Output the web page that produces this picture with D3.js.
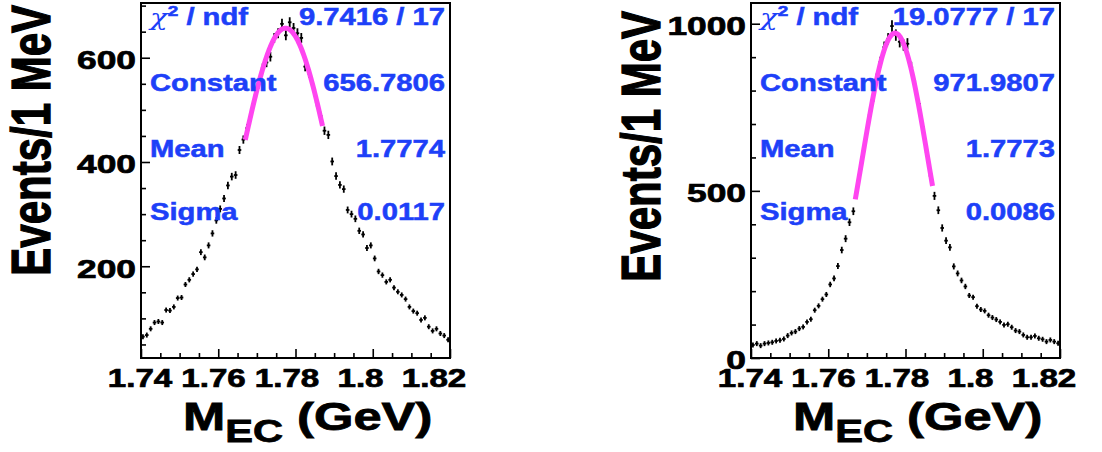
<!DOCTYPE html>
<html>
<head>
<meta charset="utf-8">
<script src="https://cdn.jsdelivr.net/npm/d3@7"></script>
<style>
  body { margin: 0; background: #fff; }
  text { font-family: "Liberation Sans", Arial, Helvetica, sans-serif; font-weight: bold; }
</style>
</head>
<body>
<svg id="chart" width="1102" height="452"></svg>
<script>
// Histogram binning: 80 bins of 1 MeV from 1.74 GeV
const binLow = 1.74;
const binWidth = 0.001;

// Events per bin, first sample
const countsA = [
  65, 68, 80, 92, 94, 92, 116, 115, 122, 139,
  140, 165, 174, 185, 194, 227, 217, 240, 263, 288,
  310, 330, 355, 372, 375, 423, 443, 465, 488, 527,
  550, 580, 591, 602, 638, 647, 665, 643, 668, 657,
  647, 638, 583, 570, 548, 515, 488, 460, 452, 401,
  373, 356, 348, 308, 300, 291, 268, 261, 235, 240,
  215, 190, 183, 170, 174, 159, 151, 145, 137, 122,
  114, 110, 97, 101, 84, 76, 80, 71, 67, 59
];

// Events per bin, second sample
const countsB = [
  39, 43, 37, 43, 45, 47, 51, 53, 57, 67,
  75, 79, 88, 93, 108, 116, 143, 156, 176, 190,
  220, 238, 275, 323, 357, 406, 439, 505, 570, 640,
  715, 770, 835, 885, 930, 955, 993, 966, 946, 936,
  940, 870, 815, 760, 690, 615, 545, 485, 442, 389,
  351, 331, 274, 253, 232, 214, 187, 182, 155, 145,
  141, 128, 121, 115, 108, 99, 101, 92, 82, 79,
  69, 62, 62, 66, 59, 56, 49, 54, 49, 44
];

// Gaussian fit results: constant, mean, sigma
const fitParamsA = [656.7806, 1.7774, 0.0117];
const fitParamsB = [971.9807, 1.7773, 0.0086];
const fitRange = [1.767, 1.787];

// Fit statistics box
const statLabels = ["Constant", "Mean", "Sigma"];
const chi2TextA = "9.7416 / 17";
const chi2TextB = "19.0777 / 17";
const statValuesA = ["656.7806", "1.7774", "0.0117"];
const statValuesB = ["971.9807", "1.7773", "0.0086"];

// Axis ticks and titles
const xTicks = [1.74, 1.76, 1.78, 1.8, 1.82];
const xTickLabels = ["1.74", "1.76", "1.78", "1.8", "1.82"];
const yTicksA = [200, 400, 600];
const yTicksB = [0, 500, 1000];
const yTitle = "Events/1 MeV";

const svg = d3.select("#chart");
const stretch = 1.3;       // wide glyph aspect of the labels
const statColor = "#1d40f8";
const fitColor = "#ff45f0";

const panels = [
  { counts: countsA, fit: fitParamsA, chi2: chi2TextA, stats: statValuesA, yTicks: yTicksA,
    yDomain: [24, 705], yMinorStep: 50, weight: 0.14,
    x0: 141, x1: 450, titleX: 50, titleTop: 5 },
  { counts: countsB, fit: fitParamsB, chi2: chi2TextB, stats: statValuesB, yTicks: yTicksB,
    yDomain: [0, 1062], yMinorStep: 100, weight: 0.3,
    x0: 751, x1: 1060, titleX: 660, titleTop: 11 }
];
const frameTop = 3, frameBottom = 358;
const statBaselines = [25, 91, 156.5, 220];

panels.forEach(p => {
  const g = svg.append("g");
  const x = d3.scaleLinear().domain([1.74, 1.82]).range([p.x0, p.x1]);
  const y = d3.scaleLinear().domain(p.yDomain).range([frameBottom, frameTop]);
  const xLabel = d3.scaleLinear().domain([1.74, 1.82]).range([p.x0 - 1, p.x0 + 293]);

  // x ticks (major and minor), pointing inward
  const xMinor = d3.range(0, 17).map(k => 1.74 + k * 0.005).filter(v => !xTicks.some(t => Math.abs(t - v) < 1e-9));
  const xAxisMajor = g.append("g").attr("transform", `translate(0,${frameBottom})`)
    .call(d3.axisBottom(x).tickValues(xTicks).tickSize(-9).tickFormat(""));
  const xAxisMinor = g.append("g").attr("transform", `translate(0,${frameBottom})`)
    .call(d3.axisBottom(x).tickValues(xMinor).tickSize(-5).tickFormat(""));

  // y ticks
  const yMinor = d3.range(Math.ceil(p.yDomain[0] / p.yMinorStep) * p.yMinorStep, p.yDomain[1], p.yMinorStep)
    .filter(v => !p.yTicks.includes(v));
  const yAxisMajor = g.append("g").attr("transform", `translate(${p.x0},0)`)
    .call(d3.axisLeft(y).tickValues(p.yTicks.filter(v => v >= p.yDomain[0])).tickSize(-9).tickFormat(""));
  const yAxisMinor = g.append("g").attr("transform", `translate(${p.x0},0)`)
    .call(d3.axisLeft(y).tickValues(yMinor).tickSize(-5).tickFormat(""));

  [xAxisMajor, xAxisMinor, yAxisMajor, yAxisMinor].forEach(a => {
    a.select(".domain").remove();
    a.selectAll("line").attr("stroke", "#000").attr("stroke-width", 1.6);
  });

  // frame
  g.append("rect")
    .attr("x", p.x0).attr("y", frameTop)
    .attr("width", p.x1 - p.x0).attr("height", frameBottom - frameTop)
    .attr("fill", "none").attr("stroke", "#000").attr("stroke-width", 2);

  // y tick labels
  g.selectAll(".ylab").data(p.yTicks).enter().append("text")
    .attr("transform", d => `translate(${p.x0 - 5},${y(d) + 2}) scale(1.36,1)`)
    .attr("text-anchor", "end").attr("dy", "0.36em")
    .attr("font-size", 26).attr("fill", "#000")
    .attr("stroke", "#000").attr("stroke-width", 0.7)
    .text(d => d);

  // x tick labels
  g.selectAll(".xlab").data(xTicks).enter().append("text")
    .attr("transform", d => `translate(${xLabel(d)},386.5) scale(${stretch},1)`)
    .attr("text-anchor", "middle")
    .attr("font-size", 25.5).attr("fill", "#000")
    .attr("stroke", "#000").attr("stroke-width", 0.7)
    .text((d, i) => xTickLabels[i]);

  // x title  M_EC (GeV)
  const xt = g.append("text")
    .attr("transform", `translate(${p.x0 + 42},430) scale(${stretch},1)`)
    .attr("font-size", 39).attr("fill", "#000")
    .attr("stroke", "#000").attr("stroke-width", 0.8);
  xt.append("tspan").text("M");
  xt.append("tspan").attr("font-size", 32).attr("dy", 12).text("EC");
  xt.append("tspan").attr("dy", -12).text(" (GeV)");

  // y title
  g.append("text")
    .attr("transform", `translate(${p.titleX},${p.titleTop}) scale(1.3,1) rotate(-90)`)
    .attr("text-anchor", "end")
    .attr("font-size", 42).attr("fill", "#000")
    .attr("stroke", "#000").attr("stroke-width", 1)
    .text(yTitle);

  // data points with error bars
  const pts = p.counts.map((c, i) => ({ xc: binLow + (i + 0.5) * binWidth, v: c, e: Math.sqrt(p.weight * c) }));
  const marks = g.append("g").attr("stroke", "#000").attr("stroke-width", 1.8);
  marks.selectAll(".ev").data(pts).enter().append("line")
    .attr("x1", d => x(d.xc)).attr("x2", d => x(d.xc))
    .attr("y1", d => Math.max(y(d.v) + 2.5, y(d.v - d.e))).attr("y2", d => Math.min(y(d.v) - 2.5, y(d.v + d.e)));
  marks.selectAll(".eh").data(pts).enter().append("line")
    .attr("x1", d => x(d.xc) - 1.8).attr("x2", d => x(d.xc) + 1.8)
    .attr("y1", d => y(d.v)).attr("y2", d => y(d.v));

  // Gaussian fit curve
  const [C, mu, sigma] = p.fit;
  const gauss = t => C * Math.exp(-0.5 * ((t - mu) / sigma) ** 2);
  const curveX = d3.range(fitRange[0], fitRange[1] + 1e-9, 0.0002);
  g.append("path")
    .datum(curveX)
    .attr("d", d3.line().x(t => x(t)).y(t => y(gauss(t))))
    .attr("fill", "none").attr("stroke", fitColor).attr("stroke-width", 5);

  // fit statistics
  const st = g.append("g").attr("fill", statColor).attr("font-size", 23)
    .attr("stroke", statColor).attr("stroke-width", 0.5);
  const chiLab = st.append("text")
    .attr("transform", `translate(${p.x0 + 9},${statBaselines[0]}) scale(1.27,1)`);
  chiLab.append("tspan").attr("font-weight", "normal").attr("font-family", "DejaVu Serif").attr("font-style", "italic").attr("stroke-width", 0).text("χ");
  chiLab.append("tspan").attr("font-size", 15).attr("dy", -9).text("2");
  chiLab.append("tspan").attr("dy", 9).text(" / ndf");
  st.append("text")
    .attr("transform", `translate(${p.x1 - 5},${statBaselines[0]}) scale(1.27,1)`)
    .attr("text-anchor", "end").text(p.chi2);
  statLabels.forEach((lab, k) => {
    st.append("text")
      .attr("transform", `translate(${p.x0 + 9},${statBaselines[k + 1]}) scale(1.27,1)`)
      .text(lab);
    st.append("text")
      .attr("transform", `translate(${p.x1 - 5},${statBaselines[k + 1]}) scale(1.27,1)`)
      .attr("text-anchor", "end").text(p.stats[k]);
  });
});
</script>
</body>
</html>
